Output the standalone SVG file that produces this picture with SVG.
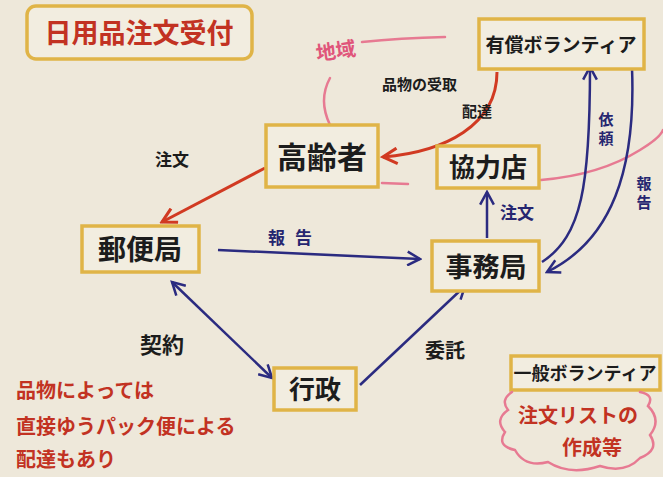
<svg xmlns="http://www.w3.org/2000/svg" width="663" height="477" viewBox="0 0 663 477">
<defs>
<style>
.bg{fill:#eee8da}
.box{fill:#f2ede0;stroke:#e0b447;stroke-width:3.5}
.t{font-family:"Noto Sans CJK JP","Noto Sans CJK SC",sans-serif;font-weight:700;fill:#1c1c1c}
.red{fill:#c23222}
.blue{fill:#262670}
.pinkt{fill:#e0557a}
.vert{writing-mode:vertical-rl;letter-spacing:4px}
.cb{fill:none;stroke:#2b2b80;stroke-width:2.5}
.cr{fill:none;stroke:#d13a22;stroke-width:3}
.pk{fill:none;stroke:#e77a92;stroke-width:2.5;stroke-linecap:round}
</style>
<marker id="ab" viewBox="0 0 14 14" refX="12" refY="7" markerWidth="16" markerHeight="16" markerUnits="userSpaceOnUse" orient="auto-start-reverse">
<path d="M1,1 L12,7 L1,13" fill="none" stroke="#2b2b80" stroke-width="2.2"/>
</marker>
<marker id="ar" viewBox="0 0 14 14" refX="12" refY="7" markerWidth="18" markerHeight="18" markerUnits="userSpaceOnUse" orient="auto">
<path d="M1,1 L12,7 L1,13" fill="none" stroke="#d13a22" stroke-width="2.4"/>
</marker>
</defs>
<rect class="bg" x="0" y="0" width="663" height="477"/>

<g id="region">
<path class="pk" d="M362 42 Q400 38 445 37"/>
<path class="pk" d="M330 78 Q318 100 330 125"/>
<path class="pk" d="M382 183 L408 184"/>
<path class="pk" d="M541 180 Q600 175 640 150 Q660 138 663 130"/>
<text class="t pinkt" x="316" y="58" font-size="20" transform="rotate(-8 336 52)">地域</text>
</g>

<g id="connectors">
<path class="cr" d="M497 72 C497 125 445 152 383 157" marker-end="url(#ar)"/>
<path class="cr" d="M265 168 L162 222" marker-end="url(#ar)"/>
<path class="cb" d="M218 250 L420 259" marker-end="url(#ab)"/>
<path class="cb" d="M487 238 L487 192" marker-end="url(#ab)"/>
<path class="cb" d="M542 262 C582 236 590 185 590 67" marker-end="url(#ab)"/>
<path class="cb" d="M632 68 C636 170 612 240 547 272" marker-end="url(#ab)"/>
<path class="cb" d="M172 282 L272 378" marker-start="url(#ab)" marker-end="url(#ab)"/>
<path class="cb" d="M360 385 L465 286" marker-end="url(#ab)"/>
<text class="t" x="382" y="90" font-size="15">品物の受取</text>
<text class="t" x="462" y="117" font-size="15">配達</text>
<text class="t" x="155" y="166" font-size="17">注文</text>
<text class="t blue" x="268" y="244" font-size="17" letter-spacing="10">報告</text>
<text class="t blue" x="500" y="219" font-size="17">注文</text>
<text class="t blue vert" x="606" y="112" font-size="15">依頼</text>
<text class="t blue vert" x="644" y="176" font-size="15">報告</text>
<text class="t" x="140" y="353" font-size="22">契約</text>
<text class="t" x="425" y="358" font-size="20">委託</text>
</g>

<g id="title">
<rect class="box" x="27" y="6" width="225" height="53" rx="9"/>
<text class="t red" x="139" y="43" font-size="27" text-anchor="middle">日用品注文受付</text>
</g>

<g id="paid-volunteer">
<rect class="box" x="479" y="19" width="165" height="50"/>
<text class="t" x="561" y="52" font-size="19" text-anchor="middle">有償ボランティア</text>
</g>

<g id="elderly">
<rect class="box" x="266" y="125" width="112" height="62"/>
<text class="t" x="322" y="168" font-size="30" text-anchor="middle">高齢者</text>
</g>

<g id="store">
<rect class="box" x="437" y="146" width="102" height="42"/>
<text class="t" x="488" y="177" font-size="26" text-anchor="middle">協力店</text>
</g>

<g id="post-office">
<rect class="box" x="82" y="226" width="117" height="46"/>
<text class="t" x="140" y="260" font-size="28" text-anchor="middle">郵便局</text>
</g>

<g id="secretariat">
<rect class="box" x="432" y="241" width="107" height="50"/>
<text class="t" x="486" y="277" font-size="27" text-anchor="middle">事務局</text>
</g>

<g id="government">
<rect class="box" x="274" y="368" width="82" height="42"/>
<text class="t" x="315" y="399" font-size="26" text-anchor="middle">行政</text>
</g>

<g id="general-volunteer">
<rect class="box" x="511" y="356" width="149" height="34"/>
<text class="t" x="585" y="380" font-size="18" text-anchor="middle">一般ボランティア</text>
<path class="pk" d="M512 392 Q500 400 508 410 Q494 420 505 432 Q496 446 515 450 Q525 468 548 462 Q570 476 600 466 Q625 474 640 458 Q660 450 650 435 Q662 420 648 406 Q655 395 640 392" stroke-width="1.8"/>
<text class="t red" x="518" y="423" font-size="20">注文リストの</text>
<text class="t red" x="562" y="455" font-size="20">作成等</text>
</g>

<g id="note">
<text class="t red" x="16" y="398" font-size="20">品物によっては</text>
<text class="t red" x="16" y="434" font-size="20">直接ゆうパック便による</text>
<text class="t red" x="16" y="467" font-size="20">配達もあり</text>
</g>
</svg>
